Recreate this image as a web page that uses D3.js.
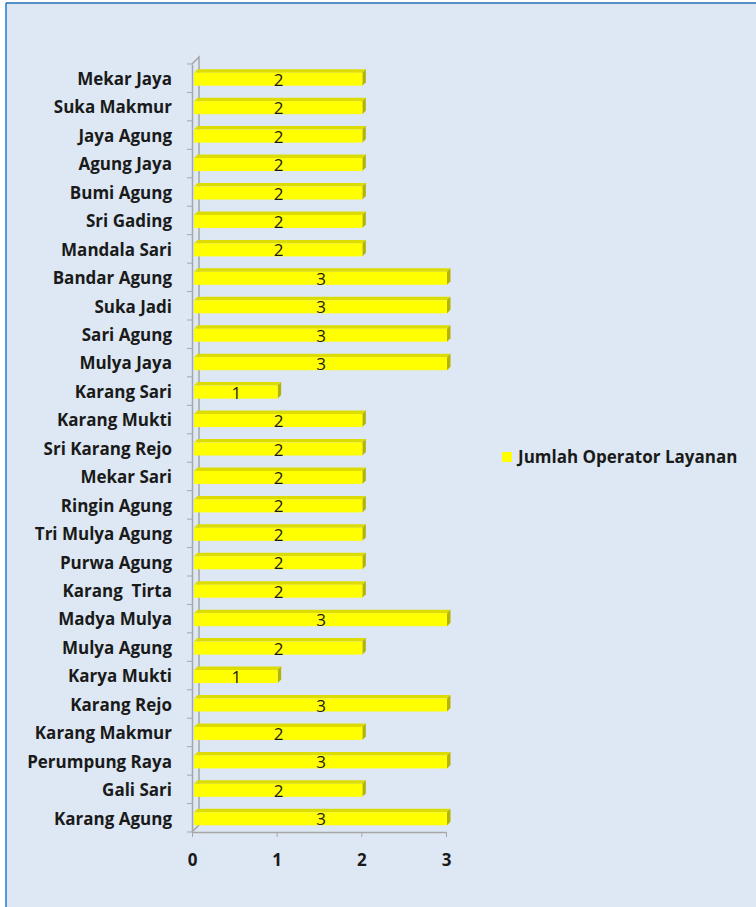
<!DOCTYPE html>
<html>
<head>
<meta charset="utf-8">
<script src="https://cdn.jsdelivr.net/npm/d3@7"></script>
<style>
  body { margin: 0; background: #fff; }
  svg text { font-family: "Open Sans", sans-serif; white-space: pre; }
</style>
</head>
<body>
<div id="chart"></div>
<script>
// data, top to bottom as in the chart
var villages = ["Mekar Jaya", "Suka Makmur", "Jaya Agung", "Agung Jaya", "Bumi Agung",
    "Sri Gading", "Mandala Sari", "Bandar Agung", "Suka Jadi", "Sari Agung", "Mulya Jaya",
    "Karang Sari", "Karang Mukti", "Sri Karang Rejo", "Mekar Sari", "Ringin Agung",
    "Tri Mulya Agung", "Purwa Agung", "Karang  Tirta", "Madya Mulya", "Mulya Agung",
    "Karya Mukti", "Karang Rejo", "Karang Makmur", "Perumpung Raya", "Gali Sari", "Karang Agung"];
var operators = [2, 2, 2, 2, 2, 2, 2, 3, 3, 3, 3, 1, 2, 2, 2, 2, 2, 2, 2, 3, 2, 1, 3, 2, 3, 2, 3];
var xTicks = [0, 1, 2, 3];
var seriesName = "Jumlah Operator Layanan";

var W = 756, H = 907;
var depth = 7;   // 3d wall depth
var svg = d3.select("#chart").append("svg")
    .attr("width", W).attr("height", H);

// chart area background + border
svg.append("rect")
    .attr("x", 6).attr("y", 3)
    .attr("width", W - 6).attr("height", H - 3)
    .attr("fill", "#dde8f4");
svg.append("line").attr("x1", 6).attr("x2", 6).attr("y1", 3).attr("y2", H)
    .attr("stroke", "#1f78c8").attr("stroke-width", 1.5);
svg.append("line").attr("x1", 6).attr("x2", W).attr("y1", 3).attr("y2", 3)
    .attr("stroke", "#1f6fb0").attr("stroke-width", 1.5);

var x = d3.scaleLinear().domain([0, 3]).range([192, 446]);
var y = d3.scaleBand().domain(villages).range([64, 832]);

// back wall of the 3d axis
var wall = svg.append("g").attr("stroke", "#a6a6a6").attr("fill", "none").attr("stroke-width", 1.5);
wall.append("path")
    .attr("d", "M" + x(0) + "," + y.range()[0] + "L" + (x(0) + depth) + "," + (y.range()[0] - depth) +
        "L" + (x(0) + depth) + "," + (y.range()[1] - depth) + "L" + x(0) + "," + y.range()[1]);

// y axis
var yAxis = svg.append("g")
    .attr("transform", "translate(" + x(0) + ",0)")
    .call(d3.axisLeft(y).tickSize(5).tickPadding(15).tickSizeOuter(0)
        .tickValues(villages));
yAxis.select(".domain").attr("stroke", "#a6a6a6").attr("stroke-width", 1.5);
// ticks go on the band edges
yAxis.selectAll(".tick line")
    .attr("y1", -y.bandwidth() / 2).attr("y2", -y.bandwidth() / 2)
    .attr("stroke", "#a6a6a6");
yAxis.append("line").attr("x1", -5).attr("x2", 0)
    .attr("y1", y.range()[1]).attr("y2", y.range()[1]).attr("stroke", "#a6a6a6");
yAxis.selectAll(".tick text")
    .style("font-size", "17px").style("font-weight", "bold").attr("fill", "#1a1a1a")
    .attr("dx", 0).attr("dy", "0.4em");

// x axis
var xAxis = svg.append("g")
    .attr("transform", "translate(0," + y.range()[1] + ")")
    .call(d3.axisBottom(x).tickValues(xTicks).tickFormat(d3.format("d"))
        .tickSize(5).tickPadding(17).tickSizeOuter(0));
xAxis.select(".domain").attr("stroke", "#a6a6a6").attr("stroke-width", 1.5);
xAxis.selectAll(".tick line").attr("stroke", "#a6a6a6");
xAxis.selectAll(".tick text")
    .style("font-size", "17px").style("font-weight", "bold").attr("fill", "#1a1a1a");

// 3d bars
var barH = 13, d3d = 3.5;
var bars = svg.append("g").selectAll("g")
    .data(villages.map(function (v, i) { return {name: v, value: operators[i]}; }))
    .join("g")
    .attr("transform", function (d) {
        return "translate(0," + (y(d.name) + y.bandwidth() / 2 - barH / 2 + 1) + ")";
    });

var x0 = x(0) + 2;
bars.append("path")   // top face
    .attr("d", function (d) {
        return "M" + x0 + ",0L" + (x0 + d3d) + "," + (-d3d) + "L" + (x(d.value) + d3d + 1) + "," + (-d3d) +
            "L" + (x(d.value) + 1) + ",0Z";
    })
    .attr("fill", "#dcdc00");
bars.append("path")   // side face
    .attr("d", function (d) {
        var xe = x(d.value) + 1;
        return "M" + xe + ",0L" + (xe + d3d) + "," + (-d3d) + "L" + (xe + d3d) + "," +
            (barH - d3d) + "L" + xe + "," + barH + "Z";
    })
    .attr("fill", "#b4b400");
bars.append("rect")   // front face
    .attr("x", x0)
    .attr("width", function (d) { return x(d.value) + 1 - x0; })
    .attr("height", barH)
    .attr("fill", "#ffff00");
bars.append("text")
    .attr("x", function (d) { return (x0 + x(d.value)) / 2 + 1; })
    .attr("y", barH / 2 + 6.5)
    .attr("text-anchor", "middle")
    .style("font-size", "17px")
    .attr("fill", "#1a1a1a")
    .text(function (d) { return d.value; });

// legend
var legend = svg.append("g").attr("transform", "translate(502,452)");
legend.append("rect").attr("width", 10).attr("height", 10).attr("fill", "#ffff00");
legend.append("text")
    .attr("x", 16).attr("y", 11)
    .style("font-size", "17px").style("font-weight", "bold").attr("fill", "#1a1a1a")
    .text(seriesName);
</script>
</body>
</html>
